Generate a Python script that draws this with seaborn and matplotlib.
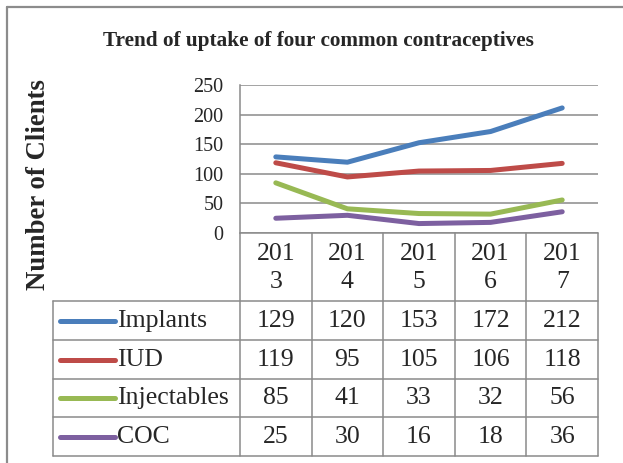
import matplotlib
matplotlib.use("Agg")
import matplotlib.pyplot as plt
import pandas as pd
import seaborn as sns

# --- data ---
years = ["2013", "2014", "2015", "2016", "2017"]
methods = ["Implants", "IUD", "Injectables", "COC"]
implants = [129, 120, 153, 172, 212]
iud = [119, 95, 105, 106, 118]
injectables = [85, 41, 33, 32, 56]
coc = [25, 30, 16, 18, 36]
colors = ["#4a7ebb", "#be4b48", "#98b954", "#7d60a0"]
yticks = [0, 50, 100, 150, 200, 250]

series = [implants, iud, injectables, coc]
df = pd.DataFrame(
    [(y, m, v) for m, vals in zip(methods, series) for y, v in zip(years, vals)],
    columns=["year", "method", "clients"],
)

sns.set_style("white")
plt.rcParams["font.family"] = ["Liberation Serif", "DejaVu Serif"]

W, H = 623, 463
fig = plt.figure(figsize=(W / 100, H / 100), dpi=100)

# pixel helpers
def fx(px):
    return px / W

def fy(py):
    return 1 - py / H

PL, PR, PT, PB = 240, 598, 85.5, 233
ax = fig.add_axes([fx(PL), fy(PB), fx(PR - PL), (PB - PT) / H])
sns.lineplot(data=df, x="year", y="clients", hue="method", palette=colors,
             hue_order=methods, linewidth=3.6, legend=False, ax=ax,
             solid_capstyle="round")
ax.set_xlim(-0.5, len(years) - 0.5)
ax.set_ylim(0, 250)
ax.set_yticks(yticks)
ax.set_yticklabels([str(t) for t in yticks], fontsize=14.5)
ax.tick_params(axis="y", length=0, pad=12)
ax.set_xticks([])
ax.set_xlabel("")
ax.set_ylabel("")
ax.grid(axis="y", color="#8a8a8a", linewidth=1.1)
ax.set_axisbelow(True)
for s in ["top", "right", "bottom"]:
    ax.spines[s].set_visible(False)
ax.spines["left"].set_color("#8a8a8a")
ax.spines["left"].set_linewidth(1.1)

# overlay in pixel coordinates for frame, title and data table
ov = fig.add_axes([0, 0, 1, 1], zorder=-1)
ov.set_xlim(0, W)
ov.set_ylim(H, 0)
ov.axis("off")
ov.patch.set_alpha(0)

# chart frame
ov.plot([7, 7], [7, H + 5], color="#8c8c8c", linewidth=1.6)
ov.plot([7, W + 5], [7, 7], color="#8c8c8c", linewidth=1.6)

ov.text(318, 41, "Trend of uptake of four common contraceptives",
        ha="center", va="center", fontsize=15.3, fontweight="bold")
ov.text(39, 185, "Number of Clients", rotation=90, ha="center", va="center",
        fontsize=19.3, fontweight="bold")

# data table
tab = fig.add_axes([0, 0, 1, 1])
tab.set_xlim(0, W)
tab.set_ylim(H, 0)
tab.axis("off")
tab.patch.set_alpha(0)

gc = "#8a8a8a"
lw = 1.1
TL = 53
fs = 18.5
cw = (PR - PL) / len(years)
col_x = [PL + i * cw for i in range(len(years) + 1)]
row_y = [PB, 301, 340, 378.5, 417, 455.5]

tab.plot([PL, PR], [PB, PB], color=gc, linewidth=lw)
for x in col_x:
    tab.plot([x, x], [PB, row_y[-1]], color=gc, linewidth=lw)
tab.plot([TL, TL], [row_y[1], row_y[-1]], color=gc, linewidth=lw)
for y in row_y[1:]:
    tab.plot([TL, PR], [y, y], color=gc, linewidth=lw)

for i, yr in enumerate(years):
    tab.text(PL + (i + 0.5) * cw, (PB + row_y[1]) / 2 + 1, yr[:3] + "\n" + yr[3:],
             ha="center", va="center", fontsize=fs, linespacing=1.32)

for r, (m, vals, c) in enumerate(zip(methods, series, colors)):
    yc = (row_y[r + 1] + row_y[r + 2]) / 2 + 0.5
    tab.plot([60, 115], [yc, yc], color=c, linewidth=3.6, solid_capstyle="round")
    tab.text(117, yc, m, ha="left", va="center", fontsize=fs)
    for i, v in enumerate(vals):
        tab.text(PL + (i + 0.5) * cw, yc, str(v), ha="center", va="center",
                 fontsize=fs)

fig.savefig("out.png", dpi=100, facecolor="white")
